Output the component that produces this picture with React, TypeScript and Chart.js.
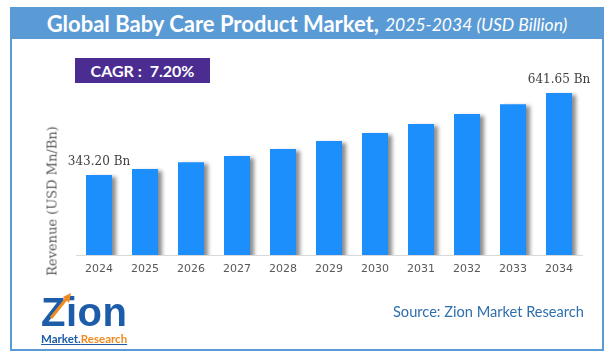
import React, { useEffect, useRef } from "react";
import { Chart, registerables } from "chart.js";

Chart.register(...registerables);

const years = ["2024", "2025", "2026", "2027", "2028", "2029", "2030", "2031", "2032", "2033", "2034"];
const revenue = [343.2, 365, 390, 412, 438, 467, 496, 529, 565, 601, 641.65];
const labelledIndexes = [0, 10];
const titleMain = "Global Baby Care Product Market,";
const titleSub = "2025-2034 (USD Billion)";
const cagrText = "CAGR :  7.20%";
const yAxisTitle = "Revenue (USD Mn/Bn)";
const sourceText = "Source: Zion Market Research";

const shadowPlugin = {
  id: "barShadow",
  beforeDatasetDraw(chart: any) {
    const ctx = chart.ctx;
    ctx.save();
    ctx.shadowColor = "rgba(0,0,0,0.45)";
    ctx.shadowBlur = 4;
    ctx.shadowOffsetX = 4;
    ctx.shadowOffsetY = 2;
  },
  afterDatasetDraw(chart: any) {
    chart.ctx.restore();
  },
};

const valueLabelPlugin = {
  id: "valueLabels",
  afterDatasetsDraw(chart: any) {
    const ctx = chart.ctx;
    const meta = chart.getDatasetMeta(0);
    ctx.save();
    ctx.font = '12px "DejaVu Serif"';
    ctx.fillStyle = "#404040";
    ctx.textAlign = "center";
    ctx.textBaseline = "middle";
    labelledIndexes.forEach((i) => {
      const bar = meta.data[i];
      ctx.fillText(revenue[i].toFixed(2) + " Bn", bar.x, bar.y - 13);
    });
    ctx.restore();
  },
};

export default function App() {
  const canvasRef = useRef<HTMLCanvasElement>(null);

  useEffect(() => {
    document.body.style.margin = "0";
    const canvas = canvasRef.current;
    if (!canvas) return;
    const chart = new Chart(canvas, {
      type: "bar",
      data: {
        labels: years,
        datasets: [
          {
            data: revenue,
            backgroundColor: "#1c8ffc",
            borderWidth: 0,
            categoryPercentage: 1,
            barPercentage: 0.565,
          },
        ],
      },
      options: {
        responsive: false,
        animation: false,
        devicePixelRatio: 1,
        layout: { padding: { top: 77, left: 76, right: 33, bottom: 83 } },
        plugins: {
          legend: { display: false },
          title: { display: false },
          tooltip: { enabled: false },
        },
        scales: {
          y: { display: false, min: 52, max: 700 },
          x: {
            grid: { display: false, drawTicks: false },
            border: { display: true, color: "#d9d9d9", width: 1 },
            ticks: {
              color: "#595959",
              font: { family: "DejaVu Sans", size: 11 },
              padding: 8,
              maxRotation: 0,
            },
            afterFit(scale: any) {
              scale.height = 25;
            },
          },
        },
      },
      plugins: [shadowPlugin, valueLabelPlugin],
    });
    return () => chart.destroy();
  }, []);

  return (
    <div style={{ position: "relative", width: 615, height: 363, background: "#fff", overflow: "hidden" }}>
      <div
        style={{
          position: "absolute",
          left: 10,
          top: 7,
          width: 594,
          height: 344,
          border: "2px solid #5b9bd5",
          boxSizing: "border-box",
        }}
      />
      <div
        style={{
          position: "absolute",
          left: 10,
          top: 7,
          width: 594,
          height: 32,
          background: "#5b9bd5",
          color: "#fff",
          display: "flex",
          alignItems: "center",
          justifyContent: "center",
          whiteSpace: "nowrap",
          fontFamily: "Lato",
        }}
      >
        <span style={{ fontWeight: 700, fontSize: 22 }}>{titleMain}</span>
        <span style={{ fontStyle: "italic", fontSize: 17.5, marginLeft: 6, marginTop: 2 }}>{titleSub}</span>
      </div>
      <svg style={{ position: "absolute", left: 0, top: 0 }} width={615} height={60}>
        <defs>
          <linearGradient id="dashGrad" x1="0" x2="1" y1="0" y2="0">
            <stop offset="0" stopColor="#f07a2a" />
            <stop offset="1" stopColor="#f8c8a0" />
          </linearGradient>
        </defs>
        <line x1={46} x2={586} y1={48.5} y2={48.5} stroke="url(#dashGrad)" strokeWidth={1.3} strokeDasharray="4 2" />
      </svg>
      <div
        style={{
          position: "absolute",
          left: 75,
          top: 58,
          width: 135,
          height: 25,
          background: "#4b2c91",
          color: "#fff",
          fontFamily: "Lato",
          fontWeight: 700,
          fontSize: 16,
          display: "flex",
          alignItems: "center",
          justifyContent: "center",
          whiteSpace: "pre",
        }}
      >
        {cagrText}
      </div>
      <canvas
        ref={canvasRef}
        width={615}
        height={363}
        style={{ position: "absolute", left: 0, top: 0, width: 615, height: 363 }}
      />
      <div
        style={{
          position: "absolute",
          left: 52,
          top: 201,
          transform: "translate(-50%, -50%) rotate(-90deg)",
          whiteSpace: "nowrap",
          fontFamily: "DejaVu Serif",
          fontSize: 13,
          color: "#595959",
        }}
      >
        {yAxisTitle}
      </div>
      <div style={{ position: "absolute", left: 41, top: 292, width: 92 }}>
        <div
          style={{
            fontFamily: "Liberation Sans",
            fontWeight: 700,
            fontSize: 40,
            lineHeight: 1,
            color: "#1d5ca8",
            letterSpacing: 0.5,
            whiteSpace: "nowrap",
          }}
        >
          Zion
        </div>
        <svg style={{ position: "absolute", left: 6, top: 0 }} width={30} height={30}>
          <line x1={4} y1={26} x2={20} y2={6} stroke="#f08a1c" strokeWidth={3} />
          <polygon points="24,1 16,5 22,11" fill="#f08a1c" />
        </svg>
        <div
          style={{
            fontFamily: "Lato",
            fontWeight: 700,
            fontSize: 11.5,
            lineHeight: "13px",
            whiteSpace: "nowrap",
            textDecoration: "underline",
            textDecorationColor: "#1d5ca8",
          }}
        >
          <span style={{ color: "#1d5ca8" }}>Market.</span>
          <span style={{ color: "#f08a1c" }}>Research</span>
        </div>
      </div>
      <div
        style={{
          position: "absolute",
          left: 393,
          top: 303,
          fontFamily: "Lato",
          fontSize: 14.6,
          color: "#2e6fae",
          whiteSpace: "nowrap",
        }}
      >
        {sourceText}
      </div>
    </div>
  );
}
